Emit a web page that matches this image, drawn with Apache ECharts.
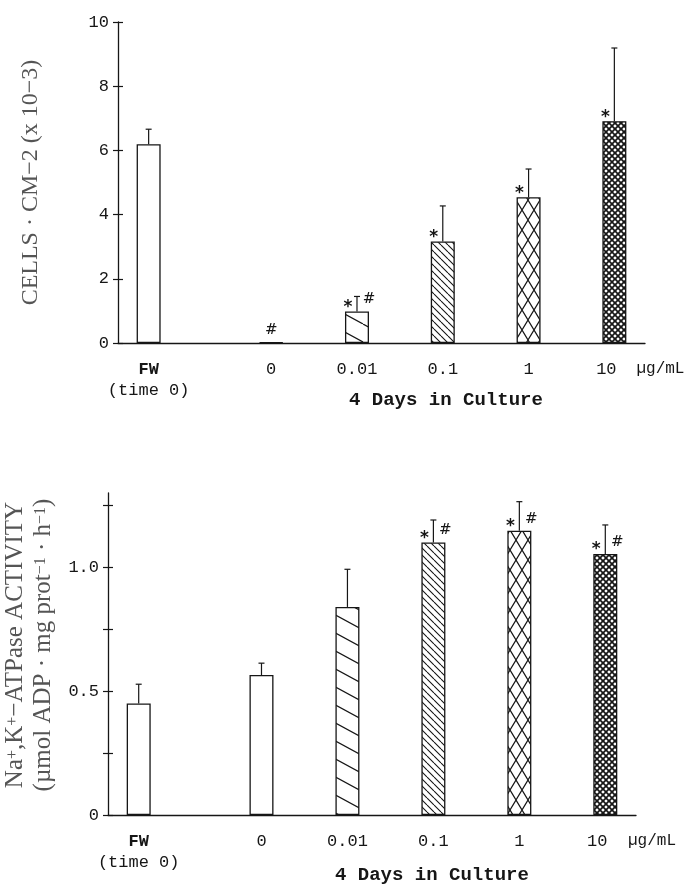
<!DOCTYPE html>
<html><head><meta charset="utf-8">
<script src="https://cdn.jsdelivr.net/npm/echarts@6/dist/echarts.min.js"></script>
<style>html,body{margin:0;padding:0;background:#fff}#c{width:694px;height:886px}</style>
</head><body><div id="c"></div>
<script>
// ---------------- data ----------------
const categories = ['FW\n(time 0)', '0', '0.01', '0.1', '1', '10'];
const unitLabel = 'µg/mL';
const xTitle = '4 Days in Culture';

const cellValues = [6.19, 0.02, 0.98, 3.16, 4.54, 6.91];
const cellErrors = [0.47, 0, 0.47, 1.11, 0.88, 2.28];
const cellStars  = [0, 0, 1, 1, 1, 1];
const cellHashes = [0, 1, 1, 0, 0, 0];
const cellTicks  = [0, 2, 4, 6, 8, 10];

const atpValues = [0.45, 0.565, 0.84, 1.10, 1.148, 1.054];
const atpErrors = [0.078, 0.048, 0.152, 0.091, 0.117, 0.117];
const atpStars  = [0, 0, 0, 1, 1, 1];
const atpHashes = [0, 0, 0, 1, 1, 1];
const atpTicks  = [0, 0.25, 0.5, 0.75, 1.0, 1.25];
const atpTickLabels = [0, 0.5, 1.0];

// ---------------- layout ----------------
const SLOTS = 43, LEAD = 2, FW_GAP = 10, STEP = 7;
function slotOf(i) { return i === 0 ? LEAD : LEAD + FW_GAP + (i - 1) * STEP; }
const slotNames = Array.from({length: SLOTS}, (_, k) => 's' + k);
const slotLabel = {};
categories.forEach((c, i) => { slotLabel[slotOf(i)] = i; });

const INK = '#161616';
const MONO = '"Liberation Mono", monospace';
const SERIF = '"Liberation Serif", serif';

function makePattern(w, h, lw, draw) {
  const c = document.createElement('canvas');
  c.width = w; c.height = h;
  const g = c.getContext('2d');
  g.fillStyle = '#fff'; g.fillRect(0, 0, w, h);
  g.strokeStyle = INK; g.lineWidth = lw;
  g.beginPath(); draw(g, w, h); g.stroke();
  return {image: c, repeat: 'repeat'};
}
function back(g, w, h) { for (let k = -1; k <= 1; k++) { g.moveTo(k * w, 0); g.lineTo(k * w + w, h); } }
function fwd(g, w, h) { for (let k = -1; k <= 1; k++) { g.moveTo(k * w + w, 0); g.lineTo(k * w, h); } }
const patterns = [
  '#fff',
  '#fff',
  makePattern(33, 18, 1.2, back),
  makePattern(7, 7, 1.1, back),
  makePattern(12, 20, 1.2, (g, w, h) => { back(g, w, h); fwd(g, w, h); }),
  makePattern(6, 6, 1.7, (g, w, h) => { back(g, w, h); fwd(g, w, h); })
];

function barData(values) {
  const arr = new Array(SLOTS).fill('-');
  values.forEach((v, i) => { arr[slotOf(i)] = {value: v, itemStyle: {color: patterns[i]}}; });
  return arr;
}
function errData(values, errs, stars, hashes) {
  return values.map((v, i) => [slotOf(i), v, errs[i], stars[i], hashes[i]]);
}
function renderErr(params, api) {
  const x = api.value(0), v = api.value(1), e = api.value(2);
  const star = api.value(3), hash = api.value(4);
  const p0 = api.coord([x, v]);
  const ch = [];
  const st = {stroke: INK, lineWidth: 1.2};
  if (e > 0) {
    const p1 = api.coord([x, v + e]);
    ch.push({type: 'line', shape: {x1: p0[0], y1: p0[1], x2: p1[0], y2: p1[1]}, style: st});
    ch.push({type: 'line', shape: {x1: p1[0] - 3, y1: p1[1], x2: p1[0] + 3, y2: p1[1]}, style: st});
  }
  if (star) ch.push({type: 'text', style: {text: '*', x: p0[0] - 9, y: p0[1] - 4, align: 'center', verticalAlign: 'middle', font: 'bold 17px "DejaVu Sans"', fill: INK}});
  if (hash) ch.push({type: 'text', style: {text: '#', x: e > 0 ? p0[0] + 12 : p0[0], y: p0[1] - 12, align: 'center', verticalAlign: 'middle', font: '15px "DejaVu Serif"', fill: INK}});
  return {type: 'group', children: ch};
}

function xAxisFor(gridIndex, gap) {
  return {
    type: 'category', gridIndex, data: slotNames, boundaryGap: true,
    axisLine: {lineStyle: {color: INK, width: 1.3}},
    axisTick: {show: false},
    axisLabel: {
      interval: 0, margin: 16, color: INK, fontFamily: MONO, fontSize: 17, lineHeight: 21,
      formatter: (val, idx) => {
        if (!(idx in slotLabel)) return '';
        const i = slotLabel[idx];
        const parts = categories[i].split('\n');
        if (i === 0) return '{b|' + parts[0] + '}\n' + parts.slice(1).join('\n');
        if (i === categories.length - 1) return '{r|' + parts[0] + '}';
        return parts[0];
      },
      rich: {
        b: {fontFamily: MONO, fontSize: 17, fontWeight: 'bold', color: INK, lineHeight: 21},
        r: {fontFamily: MONO, fontSize: 17, color: INK, padding: [0, 16, 0, 0], lineHeight: 21}
      }
    },
    name: unitLabel, nameLocation: 'end', nameGap: gap,
    nameTextStyle: {fontFamily: MONO, fontSize: 16, color: INK, verticalAlign: 'top', padding: [18, 0, 0, 0]}
  };
}

function innerTicks(gridIndex, max, interval, custom) {
  const t = {show: true, inside: true, length: 5, lineStyle: {color: INK, width: 1.2}};
  if (custom) t.customValues = custom;
  return {
    type: 'value', gridIndex, position: 'left', offset: 0, min: 0, max, interval,
    axisLine: {show: false}, axisLabel: {show: false}, splitLine: {show: false}, axisTick: t
  };
}

const option = {
  backgroundColor: '#fff',
  animation: false,
  grid: [
    {left: 118, right: 49, top: 22, height: 321, outerBoundsMode: 'none', containLabel: false},
    {left: 108, right: 58, top: 493, height: 322, outerBoundsMode: 'none', containLabel: false}
  ],
  xAxis: [xAxisFor(0, -13), xAxisFor(1, -8)],
  yAxis: [
    {
      type: 'value', gridIndex: 0, position: 'left', min: 0, max: 10, interval: 2,
      axisLine: {show: true, lineStyle: {color: INK, width: 1.3}},
      axisTick: {show: true, length: 5, lineStyle: {color: INK, width: 1.2}},
      axisLabel: {margin: 9, color: INK, fontFamily: MONO, fontSize: 17},
      splitLine: {show: false},
      name: 'CELLS · CM−2 (x 10−3)', nameLocation: 'middle', nameRotate: 90, nameGap: 75,
      nameTextStyle: {fontFamily: SERIF, fontSize: 24, color: '#555'}
    },
    innerTicks(0, 10, 2, null),
    {
      type: 'value', gridIndex: 1, position: 'left', min: 0, max: 1.3, interval: 0.25,
      axisLine: {show: true, lineStyle: {color: INK, width: 1.3}},
      axisTick: {show: true, length: 5, customValues: atpTicks, lineStyle: {color: INK, width: 1.2}},
      axisLabel: {margin: 9, color: INK, fontFamily: MONO, fontSize: 17, customValues: atpTickLabels,
        formatter: v => v === 0 ? '0' : v.toFixed(1)},
      splitLine: {show: false},
      name: 'Na{s|+},K{s|+}−ATPase ACTIVITY\n(µmol ADP · mg prot{s|−1} · h{s|−1})',
      nameLocation: 'middle', nameRotate: 90, nameGap: 42,
      nameTextStyle: {fontFamily: SERIF, fontSize: 25, color: '#555', lineHeight: 28, padding: [0, 0, 0, 18],
        rich: {s: {fontFamily: SERIF, fontSize: 16, color: '#555', verticalAlign: 'bottom', padding: [0, 0, 9, 0]}}}
    },
    innerTicks(1, 1.3, 0.25, atpTicks)
  ],
  graphic: [
    {type: 'text', left: 446 - 97, top: 391, style: {text: xTitle, font: 'bold 19px ' + MONO, fill: INK}},
    {type: 'text', left: 432 - 97, top: 866, style: {text: xTitle, font: 'bold 19px ' + MONO, fill: INK}}
  ],
  series: [
    {type: 'bar', xAxisIndex: 0, yAxisIndex: 0, barWidth: 24, data: barData(cellValues),
      itemStyle: {borderColor: INK, borderWidth: 1.3}},
    {type: 'custom', xAxisIndex: 0, yAxisIndex: 0, clip: false, renderItem: renderErr,
      encode: {x: 0, y: 1}, data: errData(cellValues, cellErrors, cellStars, cellHashes), z: 5},
    {type: 'bar', xAxisIndex: 1, yAxisIndex: 2, barWidth: 24, data: barData(atpValues),
      itemStyle: {borderColor: INK, borderWidth: 1.3}},
    {type: 'custom', xAxisIndex: 1, yAxisIndex: 2, clip: false, renderItem: renderErr,
      encode: {x: 0, y: 1}, data: errData(atpValues, atpErrors, atpStars, atpHashes), z: 5}
  ]
};
const chart = echarts.init(document.getElementById('c'), null, {renderer: 'canvas'});
chart.setOption(option);
</script>
</body></html>
